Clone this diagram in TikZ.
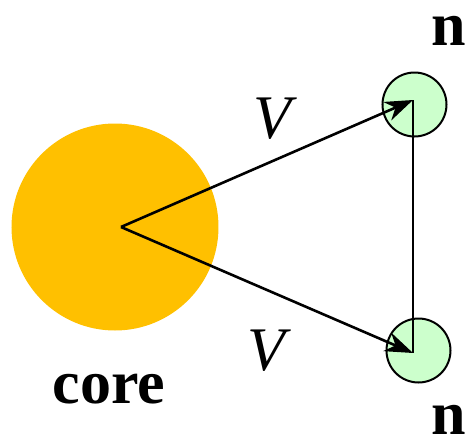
\documentclass[tikz,border=0pt]{standalone}
\usepackage{fontspec}
\setmainfont{Liberation Serif}
\usetikzlibrary{arrows.meta, positioning}
\definecolor{coreorange}{RGB}{255, 192, 0}
\definecolor{satgreen}{RGB}{204, 255, 204}
\tikzset{
  corecirc/.style={
    circle,
    fill=coreorange,
    minimum size=103.5pt,
    inner sep=0pt
  },
  satcirc/.style={
    circle,
    draw=black,
    line width=1pt,
    fill=satgreen,
    minimum size=32pt,
    inner sep=0pt
  },
  velarrow/.style={
    -{Stealth[length=14pt, width=10pt, inset=4.5pt]},
    line width=1.3pt
  },
  bigtext/.style={
    inner sep=0pt,
    font=\fontsize{31}{36}\selectfont
  }
}

\begin{document}
\begin{tikzpicture}[x=0.5pt, y=-0.5pt]
      \useasboundingbox (0, 0) rectangle (473, 445);

      % core and the two satellites
      \node[corecirc] (core) at (115, 227) {};
      \node[satcirc] (satA) at (414.5, 104.5) {};
      \node[satcirc] (satB) at (418.5, 350.5) {};
      \coordinate (src) at (121, 227);
      \coordinate (tipA) at (413, 100);
      \coordinate (tipB) at (413, 353);

      % velocity arrows
      \draw[velarrow] (src) -- (tipA);
      \draw[velarrow] (src) -- (tipB);
      \draw[line width=0.75pt] (tipA) -- (tipB);

      % labels
      \node[bigtext, anchor=base] (vA) at (272, 138) {\itshape V};
      \node[bigtext, anchor=base] (vB) at (266, 370) {\itshape V};
      \node[bigtext, anchor=base] (coreLbl) at (109, 403) {\bfseries core};
      \node[bigtext, anchor=base] (nA) at (449, 45) {\bfseries n};
      \node[bigtext, anchor=base] (nB) at (449, 434) {\bfseries n};
    \end{tikzpicture}
\end{document}
